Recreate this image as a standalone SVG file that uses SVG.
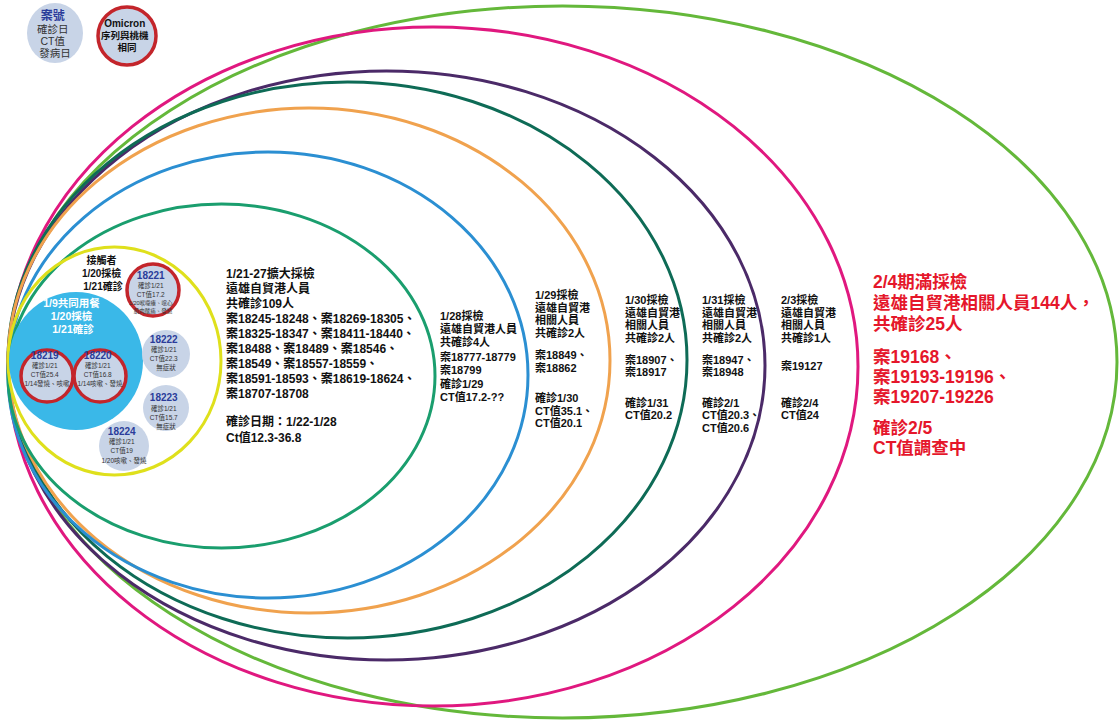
<svg xmlns="http://www.w3.org/2000/svg" width="1120" height="724" viewBox="0 0 1120 724">
<style>
  text { font-family: "Liberation Sans", "Noto Sans CJK TC", "Noto Sans CJK SC", sans-serif; }
  .ring { fill: none; stroke-width: 3; }
  .t { font-size: 12px; font-weight: 700; fill: #111; }
  .s { font-size: 11px; font-weight: 700; fill: #111; }
  .red { font-size: 17.5px; font-weight: 700; fill: #e5172b; }
  .node { fill: #c8d4e7; }
  .omi { fill: #c8d4e7; stroke: #c3252b; stroke-width: 3.5; }
  .nid { font-size: 10px; font-weight: 700; fill: #2b3c9a; }
  .nd { font-size: 6.5px; fill: #333; font-weight: 400; }
  .nd2 { font-size: 5.5px; fill: #333; font-weight: 400; }
  .mid { text-anchor: middle; }
  .w { font-size: 10.5px; font-weight: 700; fill: #fff; }
  .k { font-size: 10px; font-weight: 700; fill: #111; }
</style>
<rect width="1120" height="724" fill="#fff"/>

<g id="rings">
  <g id="ring-0204">
    <ellipse class="ring" cx="562.5" cy="362" rx="554.5" ry="356" stroke="#64b83a"/>
    <text class="red">
      <tspan x="873" y="288">2/4期滿採檢</tspan>
      <tspan x="873" y="309">遠雄自貿港相關人員144人，</tspan>
      <tspan x="873" y="329.5">共確診25人</tspan>
      <tspan x="873" y="363">案19168、</tspan>
      <tspan x="873" y="383">案19193-19196、</tspan>
      <tspan x="873" y="403">案19207-19226</tspan>
      <tspan x="873" y="434">確診2/5</tspan>
      <tspan x="873" y="454">CT值調查中</tspan>
    </text>
  </g>
  <g id="ring-0203">
    <ellipse class="ring" cx="433" cy="366.5" rx="425" ry="339.5" stroke="#e0187f"/>
    <text class="s">
      <tspan x="781" y="304">2/3採檢</tspan>
      <tspan x="781" y="316.7">遠雄自貿港</tspan>
      <tspan x="781" y="329.4">相關人員</tspan>
      <tspan x="781" y="342.1">共確診1人</tspan>
      <tspan x="781" y="370">案19127</tspan>
      <tspan x="781" y="406.5">確診2/4</tspan>
      <tspan x="781" y="419.2">CT值24</tspan>
    </text>
  </g>
  <g id="ring-0131">
    <ellipse class="ring" cx="386.5" cy="365.5" rx="378.5" ry="294.5" stroke="#4b2a68"/>
    <text class="s">
      <tspan x="702" y="304">1/31採檢</tspan>
      <tspan x="702" y="316.7">遠雄自貿港</tspan>
      <tspan x="702" y="329.4">相關人員</tspan>
      <tspan x="702" y="342.1">共確診2人</tspan>
      <tspan x="702" y="363.5">案18947、</tspan>
      <tspan x="702" y="376.2">案18948</tspan>
      <tspan x="702" y="406.5">確診2/1</tspan>
      <tspan x="702" y="419.2">CT值20.3、</tspan>
      <tspan x="702" y="431.9">CT值20.6</tspan>
    </text>
  </g>
  <g id="ring-0130">
    <ellipse class="ring" cx="347.5" cy="360" rx="339.5" ry="278" stroke="#0e6b56"/>
    <text class="s">
      <tspan x="625" y="304">1/30採檢</tspan>
      <tspan x="625" y="316.7">遠雄自貿港</tspan>
      <tspan x="625" y="329.4">相關人員</tspan>
      <tspan x="625" y="342.1">共確診2人</tspan>
      <tspan x="625" y="363.5">案18907、</tspan>
      <tspan x="625" y="376.2">案18917</tspan>
      <tspan x="625" y="406.5">確診1/31</tspan>
      <tspan x="625" y="419.2">CT值20.2</tspan>
    </text>
  </g>
  <g id="ring-0129">
    <ellipse class="ring" cx="309" cy="360.5" rx="301" ry="252.5" stroke="#f0a24e"/>
    <text class="s">
      <tspan x="535" y="299">1/29採檢</tspan>
      <tspan x="535" y="311.7">遠雄自貿港</tspan>
      <tspan x="535" y="324.4">相關人員</tspan>
      <tspan x="535" y="337.1">共確診2人</tspan>
      <tspan x="535" y="359">案18849、</tspan>
      <tspan x="535" y="371.7">案18862</tspan>
      <tspan x="535" y="402">確診1/30</tspan>
      <tspan x="535" y="414.7">CT值35.1、</tspan>
      <tspan x="535" y="427.4">CT值20.1</tspan>
    </text>
  </g>
  <g id="ring-0128">
    <ellipse class="ring" cx="268" cy="375" rx="260" ry="223" stroke="#2b8fd2"/>
    <text class="s">
      <tspan x="440" y="320">1/28採檢</tspan>
      <tspan x="440" y="333">遠雄自貿港人員</tspan>
      <tspan x="440" y="346">共確診4人</tspan>
      <tspan x="440" y="361">案18777-18779</tspan>
      <tspan x="440" y="374">案18799</tspan>
      <tspan x="440" y="388">確診1/29</tspan>
      <tspan x="440" y="401">CT值17.2-??</tspan>
    </text>
  </g>
  <g id="ring-0121">
    <ellipse class="ring" cx="221.5" cy="376" rx="213.5" ry="172" stroke="#1a9e6e"/>
    <text class="t">
      <tspan x="226" y="278">1/21-27擴大採檢</tspan>
      <tspan x="226" y="293">遠雄自貿港人員</tspan>
      <tspan x="226" y="308">共確診109人</tspan>
      <tspan x="226" y="323">案18245-18248、案18269-18305、</tspan>
      <tspan x="226" y="338">案18325-18347、案18411-18440、</tspan>
      <tspan x="226" y="353">案18488、案18489、案18546、</tspan>
      <tspan x="226" y="368">案18549、案18557-18559、</tspan>
      <tspan x="226" y="383">案18591-18593、案18619-18624、</tspan>
      <tspan x="226" y="398">案18707-18708</tspan>
      <tspan x="226" y="426">確診日期：1/22-1/28</tspan>
      <tspan x="226" y="442">Ct值12.3-36.8</tspan>
    </text>
  </g>
  <g id="ring-contacts">
    <ellipse class="ring" cx="114.5" cy="361" rx="106.5" ry="114" stroke="#dfe01c"/>
    <text class="k mid">
      <tspan x="103" y="264">接觸者</tspan>
      <tspan x="103" y="277">1/20採檢</tspan>
      <tspan x="103" y="290">1/21確診</tspan>
    </text>
  </g>
</g>

<g id="meal-group">
  <ellipse cx="76" cy="361" rx="67" ry="69" fill="#3ab8e8"/>
  <text class="w mid">
    <tspan x="73" y="307">1/9共同用餐</tspan>
    <tspan x="73" y="320">1/20採檢</tspan>
    <tspan x="73" y="333">1/21確診</tspan>
  </text>
</g>

<g id="n18219">
  <circle class="omi" cx="47" cy="376" r="26"/>
  <text class="mid">
    <tspan class="nid" x="47" y="359">18219</tspan>
    <tspan class="nd" x="47" y="368">確診1/21</tspan>
    <tspan class="nd" x="47" y="377">CT值25.4</tspan>
    <tspan class="nd" x="47" y="386">1/14發燒、咳嗽</tspan>
  </text>
</g>
<g id="n18220">
  <circle class="omi" cx="100" cy="376" r="26"/>
  <text class="mid">
    <tspan class="nid" x="100" y="359">18220</tspan>
    <tspan class="nd" x="100" y="368">確診1/21</tspan>
    <tspan class="nd" x="100" y="377">CT值16.8</tspan>
    <tspan class="nd" x="100" y="386">1/14咳嗽、發燒</tspan>
  </text>
</g>
<g id="n18221">
  <circle class="omi" cx="153" cy="290" r="26"/>
  <text class="mid">
    <tspan class="nid" x="153" y="279">18221</tspan>
    <tspan class="nd" x="153" y="288">確診1/21</tspan>
    <tspan class="nd" x="153" y="297">CT值17.2</tspan>
    <tspan class="nd2" x="153" y="305">1/20喉嚨癢、噁心</tspan>
    <tspan class="nd2" x="153" y="313">肌肉酸痛、發燒</tspan>
  </text>
</g>
<g id="n18222">
  <circle class="node" cx="166" cy="354" r="24"/>
  <text class="mid">
    <tspan class="nid" x="166" y="343">18222</tspan>
    <tspan class="nd" x="166" y="352">確診1/21</tspan>
    <tspan class="nd" x="166" y="361">CT值22.3</tspan>
    <tspan class="nd" x="166" y="370">無症狀</tspan>
  </text>
</g>
<g id="n18223">
  <circle class="node" cx="166" cy="408" r="23"/>
  <text class="mid">
    <tspan class="nid" x="166" y="401">18223</tspan>
    <tspan class="nd" x="166" y="411">確診1/21</tspan>
    <tspan class="nd" x="166" y="420">CT值15.7</tspan>
    <tspan class="nd" x="166" y="429">無症狀</tspan>
  </text>
</g>
<g id="n18224">
  <circle class="node" cx="124" cy="446" r="25"/>
  <text class="mid">
    <tspan class="nid" x="124" y="435">18224</tspan>
    <tspan class="nd" x="124" y="444">確診1/21</tspan>
    <tspan class="nd" x="124" y="453">CT值19</tspan>
    <tspan class="nd" x="124" y="463">1/20咳嗽、發燒</tspan>
  </text>
</g>

<g id="legend-case">
  <ellipse class="node" cx="55" cy="33" rx="28" ry="30"/>
  <text class="mid">
    <tspan x="55" y="20" style="font-size:12px;font-weight:700;fill:#2b3c9a">案號</tspan>
    <tspan x="55" y="33" style="font-size:10.5px;fill:#333">確診日</tspan>
    <tspan x="55" y="45" style="font-size:10.5px;fill:#333">CT值</tspan>
    <tspan x="55" y="57" style="font-size:10.5px;fill:#333">發病日</tspan>
  </text>
</g>
<g id="legend-omicron">
  <circle class="omi" cx="127" cy="36" r="29"/>
  <text class="mid" style="font-weight:700;fill:#111">
    <tspan x="127" y="27" style="font-size:10px">Omicron</tspan>
    <tspan x="127" y="39" style="font-size:9.5px">序列與桃機</tspan>
    <tspan x="127" y="51" style="font-size:9.5px">相同</tspan>
  </text>
</g>
</svg>
